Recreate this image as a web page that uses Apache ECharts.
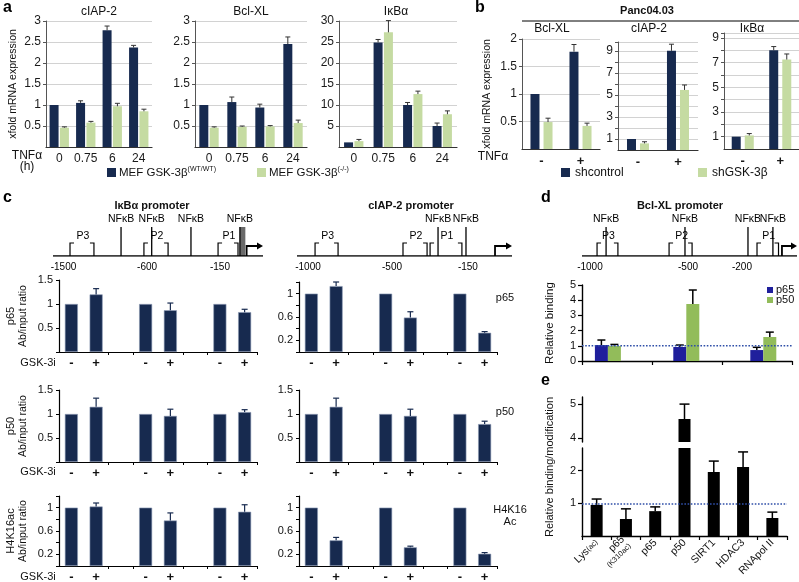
<!DOCTYPE html>
<html>
<head>
<meta charset="utf-8">
<script src="https://cdn.jsdelivr.net/npm/echarts@6.0.0/dist/echarts.min.js"></script>
<style>html,body{margin:0;padding:0;background:#fff;}#chart{width:799px;height:582px;}</style>
</head>
<body>
<div id="chart"></div>
<script>
// ================= DATA =================
// panel a : MEF cells, xfold mRNA expression vs TNFa time (h)
const aTimes = ['0', '0.75', '6', '24'];
const aCiapWT = [1.0, 1.05, 2.78, 2.37];
const aCiapWTErr = [0, 0.05, 0.1, 0.05];
const aCiapKO = [0.46, 0.58, 0.97, 0.85];
const aCiapKOErr = [0.02, 0.03, 0.07, 0.05];
const aBclWT = [1.0, 1.07, 0.94, 2.45];
const aBclWTErr = [0, 0.12, 0.08, 0.17];
const aBclKO = [0.46, 0.48, 0.49, 0.57];
const aBclKOErr = [0.02, 0.02, 0.02, 0.07];
const aIkbWT = [1.1, 24.9, 10.0, 5.0];
const aIkbWTErr = [0, 0.7, 0.6, 0.7];
const aIkbKO = [1.4, 27.3, 12.6, 7.8];
const aIkbKOErr = [0.4, 2.8, 0.7, 0.8];

// panel b : Panc04.03
const bTnf = ['-', '+'];
const bBclCtl = [1.0, 1.77];  const bBclCtlErr = [0, 0.13];
const bBclSh = [0.49, 0.42];  const bBclShErr = [0.07, 0.05];
const bCiapCtl = [1.0, 9.0];  const bCiapCtlErr = [0, 0.6];
const bCiapSh = [0.6, 5.45];  const bCiapShErr = [0.15, 0.45];
const bIkbCtl = [1.0, 8.0];   const bIkbCtlErr = [0, 0.3];
const bIkbSh = [1.1, 7.25];   const bIkbShErr = [0.15, 0.45];
const bOddLabels = [1, 3, 5, 7, 9];

// panel c : ChIP, GSK-3i - / +, primer pairs P3, P2, P1
const cCats = ['-', '+', '', '-', '+', '', '-', '+'];
const cIkbP65 = [1, 1.2, null, 1, 0.87, null, 1, 0.83];
const cIkbP65Err = [0, 0.12, 0, 0, 0.15, 0, 0, 0.06];
const cCiapP65 = [1, 1.13, null, 1, 0.59, null, 1, 0.33];
const cCiapP65Err = [0, 0.07, 0, 0, 0.1, 0, 0, 0.02];
const cIkbP50 = [1, 1.15, null, 1, 0.96, null, 1, 1.04];
const cIkbP50Err = [0, 0.18, 0, 0, 0.14, 0, 0, 0.05];
const cCiapP50 = [1, 1.15, null, 1, 0.96, null, 1, 0.79];
const cCiapP50Err = [0, 0.18, 0, 0, 0.14, 0, 0, 0.06];
const cIkbAc = [1, 1.02, null, 1, 0.78, null, 1, 0.93];
const cIkbAcErr = [0, 0.06, 0, 0, 0.13, 0, 0, 0.12];
const cCiapAc = [1, 0.44, null, 1, 0.32, null, 1, 0.21];
const cCiapAcErr = [0, 0.05, 0, 0, 0.02, 0, 0, 0.02];
const cTicksHalf = [0.5, 1, 1.5];
const cTicksFine = [0.2, 0.6, 1];

// promoter schematics (position along drawn promoter, 0-100)
const ikbSites = [32.4, 47.0, 65.7, 89.0];
const ikbBox = [[89.0, 91.6]];
const ikbPrimers = [['P3', 8.1, 19.5], ['P2', 43.3, 54.8], ['P1', 78.6, 88.1]];
const ikbTicks = [['-1500', 5.0], ['-600', 44.8], ['-150', 79.5]];
const ikbTss = 92.2;
const ciapSites = [65.6, 78.6];
const ciapPrimers = [['P3', 8.4, 19.1], ['P2', 49.3, 60.5], ['P1', 61.9, 76.7]];
const ciapTicks = [['-1000', 5.1], ['-500', 44.2], ['-150', 79.5]];
const ciapTss = 92.1;
const bclSites = [11.2, 47.9, 77.2, 88.8];
const bclPrimers = [['P3', 7.0, 16.7], ['P2', 40.5, 51.2], ['P1', 81.4, 91.4]];
const bclTicks = [['-1000', 3.7], ['-500', 49.3], ['-200', 74.4]];
const bclTss = 93.0;

// panel d : Bcl-XL promoter relative binding
const dPrimerPos = [0.37, 1.49, 2.59];
const dP65 = [1.05, 0.92, 0.72];  const dP65Err = [0.33, 0.13, 0.18];
const dP50 = [0.99, 3.75, 1.58];  const dP50Err = [0.1, 0.92, 0.32];

// panel e : relative binding / modification
const eCats = ['Lys(ac)', 'p65(K310ac)', 'p65', 'p50', 'SIRT1', 'HDAC3', 'RNApol II'];
const eVals = [0.95, 0.52, 0.76, 4.56, 1.96, 2.11, 0.55];
const eErr = [0.18, 0.31, 0.13, 0.44, 0.33, 0.46, 0.18];
const eUpperTicks = [4, 5];
const eLowerTicks = [1, 2];

// ================= STYLE / BUILD =================
const FONT = '"Liberation Sans", Arial, Helvetica, sans-serif';
const NAVY = '#172a4f';
const LGREEN = '#c5dba2';
const DBLUE = '#1f1f9c';
const DGREEN = '#92bc5a';
const grid = [], xAxis = [], yAxis = [], series = [], graphic = [];

function addGrid(rect, xa, ya) {
  const gi = grid.length;
  grid.push(Object.assign({ outerBoundsMode: 'none', containLabel: false }, rect));
  xa.gridIndex = gi; ya.gridIndex = gi;
  xAxis.push(xa); yAxis.push(ya);
  return gi;
}
function near(list, v) { return list.some(t => Math.abs(t - v) < 1e-6); }

function errS(gi, xs, vals, errs, off, capW, color, lw, clip) {
  return {
    type: 'custom', xAxisIndex: gi, yAxisIndex: gi, silent: true, z: 5, clip: !!clip,
    data: vals.map((v, i) => [xs[i], v == null ? 0 : v, errs[i] || 0]),
    renderItem(params, api) {
      const e = api.value(2);
      if (!e) return null;
      const c0 = api.coord([api.value(0), api.value(1)]);
      const c1 = api.coord([api.value(0), api.value(1) + e]);
      const x = c0[0] + off;
      return { type: 'group', children: [
        { type: 'line', shape: { x1: x, y1: c0[1], x2: x, y2: c1[1] }, style: { stroke: color, lineWidth: lw } },
        { type: 'line', shape: { x1: x - capW / 2, y1: c1[1], x2: x + capW / 2, y2: c1[1] }, style: { stroke: color, lineWidth: lw } }
      ] };
    }
  };
}
function idx(n) { return Array.from({ length: n }, (_, i) => i); }

function pairBars(gi, v1, e1, v2, e2, c1, c2, w, gap, capW) {
  const off = w * (1 + gap) / 2;
  series.push({ type: 'bar', xAxisIndex: gi, yAxisIndex: gi, data: v1, barWidth: w, barGap: (gap * 100) + '%', itemStyle: { color: c1 }, silent: true, z: 2 });
  series.push({ type: 'bar', xAxisIndex: gi, yAxisIndex: gi, data: v2, barWidth: w, barGap: (gap * 100) + '%', itemStyle: { color: c2 }, silent: true, z: 2 });
  series.push(errS(gi, idx(v1.length), v1, e1, -off, capW, '#333', 1, false));
  series.push(errS(gi, idx(v2.length), v2, e2, off, capW, '#333', 1, false));
}

function abY(max, interval, labels) {
  return {
    type: 'value', min: 0, max: max, interval: interval,
    axisLine: { show: true, lineStyle: { color: '#555', width: 1 } },
    axisTick: { show: true, length: 3, lineStyle: { color: '#555' } },
    splitLine: { show: true, lineStyle: { color: '#d2d2d2', width: 1 } },
    axisLabel: { color: '#1a1a1a', fontSize: 12, fontFamily: FONT, margin: 5, showMinLabel: false,
      formatter: v => (labels ? (near(labels, v) ? String(v) : '') : String(v)) }
  };
}
function abX(cats, bold) {
  return {
    type: 'category', data: cats,
    axisLine: { show: true, lineStyle: { color: '#333', width: 1.2 } },
    axisTick: { show: false },
    axisLabel: { interval: 0, color: '#1a1a1a', fontSize: bold ? 13 : 12, fontWeight: bold ? 'bold' : 'normal', fontFamily: FONT, margin: 6 }
  };
}

// ---- panel a
let g;
g = addGrid({ left: 46, top: 21, width: 106, height: 126 }, abX(aTimes), abY(3, 0.5));
pairBars(g, aCiapWT, aCiapWTErr, aCiapKO, aCiapKOErr, NAVY, LGREEN, 9, 0.15, 5);
g = addGrid({ left: 195, top: 21, width: 112, height: 126 }, abX(aTimes), abY(3, 0.5));
pairBars(g, aBclWT, aBclWTErr, aBclKO, aBclKOErr, NAVY, LGREEN, 9, 0.15, 5);
g = addGrid({ left: 339, top: 21, width: 118, height: 126 }, abX(aTimes), abY(30, 5));
pairBars(g, aIkbWT, aIkbWTErr, aIkbKO, aIkbKOErr, NAVY, LGREEN, 9, 0.15, 5);

// ---- panel b
g = addGrid({ left: 522, top: 39, width: 78, height: 110 }, abX(bTnf, true), abY(2, 0.5));
pairBars(g, bBclCtl, bBclCtlErr, bBclSh, bBclShErr, NAVY, LGREEN, 9, 0.45, 5);
g = addGrid({ left: 618, top: 42, width: 80, height: 108 }, abX(bTnf, true), abY(9.8, 1, bOddLabels));
pairBars(g, bCiapCtl, bCiapCtlErr, bCiapSh, bCiapShErr, NAVY, LGREEN, 9, 0.45, 5);
g = addGrid({ left: 724, top: 33, width: 75, height: 116 }, abX(bTnf, true), abY(9.4, 1, bOddLabels));
pairBars(g, bIkbCtl, bIkbCtlErr, bIkbSh, bIkbShErr, NAVY, LGREEN, 9, 0.45, 5);

// ---- promoter schematics
function addPromoter(rect, sites, boxes, primers, ticks, tss) {
  const gi = addGrid(rect, { type: 'value', min: 0, max: 100, show: false }, { type: 'value', min: 0, max: 10, show: false });
  const ax = { xAxisIndex: gi, yAxisIndex: gi, silent: true };
  const tf = { fontSize: 10.5, fontFamily: FONT, fill: '#000' };
  series.push(Object.assign({ type: 'line', data: [[0, 0], [100, 0]], symbol: 'none', lineStyle: { color: '#000', width: 1.6 }, z: 3 }, ax));
  if (boxes.length) series.push(Object.assign({ type: 'custom', z: 2, data: boxes, renderItem: (p, api) => {
    const a = api.coord([api.value(0), 10]), b = api.coord([api.value(1), 0]);
    return { type: 'rect', shape: { x: a[0], y: a[1], width: b[0] - a[0], height: b[1] - a[1] }, style: { fill: '#6a6a6a' } };
  } }, ax));
  series.push(Object.assign({ type: 'custom', z: 4, data: sites.map(s => [s, 10]), renderItem: (p, api) => {
    const b = api.coord([api.value(0), 0]), t = api.coord([api.value(0), api.value(1)]);
    return { type: 'group', children: [
      { type: 'line', shape: { x1: b[0], y1: b[1], x2: t[0], y2: t[1] }, style: { stroke: '#000', lineWidth: 1.3 } },
      { type: 'text', style: Object.assign({ text: 'NFκB', x: t[0], y: t[1] - 2, align: 'center', verticalAlign: 'bottom' }, tf) }
    ] };
  } }, ax));
  series.push(Object.assign({ type: 'custom', z: 4, data: primers.map(q => [q[1], q[2]]), renderItem: (p, api) => {
    const s = api.coord([api.value(0), 0]), e = api.coord([api.value(1), 0]);
    const h = 13, t = 4, y0 = s[1];
    return { type: 'group', children: [
      { type: 'polyline', shape: { points: [[s[0], y0], [s[0], y0 - h], [s[0] + t, y0 - h]] }, style: { stroke: '#000', fill: 'none', lineWidth: 1.2 } },
      { type: 'polyline', shape: { points: [[e[0] - t, y0 - h], [e[0], y0 - h], [e[0], y0]] }, style: { stroke: '#000', fill: 'none', lineWidth: 1.2 } },
      { type: 'text', style: Object.assign({ text: primers[p.dataIndex][0], x: (s[0] + e[0]) / 2 + 1, y: y0 - h - 1, align: 'center', verticalAlign: 'bottom' }, tf) }
    ] };
  } }, ax));
  series.push(Object.assign({ type: 'custom', z: 4, data: ticks.map(q => [q[1], 0]), renderItem: (p, api) => {
    const c = api.coord([api.value(0), 0]);
    return { type: 'text', style: Object.assign({ text: ticks[p.dataIndex][0], x: c[0], y: c[1] + 6, align: 'center', verticalAlign: 'top' }, tf, { fontSize: 10 }) };
  } }, ax));
  series.push(Object.assign({ type: 'custom', z: 4, data: [[tss, 100]], renderItem: (p, api) => {
    const s = api.coord([api.value(0), 0]), e = api.coord([api.value(1), 0]);
    const y0 = s[1], hy = y0 - 10;
    return { type: 'group', children: [
      { type: 'polyline', shape: { points: [[s[0], y0], [s[0], hy], [e[0] - 4, hy]] }, style: { stroke: '#000', fill: 'none', lineWidth: 1.8 } },
      { type: 'polygon', shape: { points: [[e[0] - 6, hy - 3.5], [e[0], hy], [e[0] - 6, hy + 3.5]] }, style: { fill: '#000' } }
    ] };
  } }, ax));
}
addPromoter({ left: 53, top: 227, width: 210, height: 29 }, ikbSites, ikbBox, ikbPrimers, ikbTicks, ikbTss);
addPromoter({ left: 297, top: 227, width: 215, height: 29 }, ciapSites, [], ciapPrimers, ciapTicks, ciapTss);
addPromoter({ left: 582, top: 227, width: 215, height: 29 }, bclSites, [], bclPrimers, bclTicks, bclTss);

// ---- panel c bar charts
function cY(max, interval, labels) {
  return {
    type: 'value', min: 0, max: max, interval: interval,
    axisLine: { show: true, lineStyle: { color: '#000', width: 1.2 } },
    axisTick: { show: true, length: 3, lineStyle: { color: '#000' } },
    splitLine: { show: false },
    axisLabel: { color: '#111', fontSize: 11, fontFamily: FONT, margin: 6, formatter: v => (near(labels, v) ? String(v) : '') }
  };
}
function cX() {
  return {
    type: 'category', data: cCats,
    axisLine: { show: true, lineStyle: { color: '#000', width: 1.2 } },
    axisTick: { show: true, length: 3, interval: i => (i === 2 || i === 3 || i === 5 || i === 6), lineStyle: { color: '#000' } },
    axisLabel: { interval: 0, color: '#111', fontSize: 13, fontWeight: 'bold', fontFamily: FONT, margin: 5 }
  };
}
function cChart(rect, vals, errs, max, interval, labels) {
  const gi = addGrid(rect, cX(), cY(max, interval, labels));
  series.push({ type: 'bar', xAxisIndex: gi, yAxisIndex: gi, data: vals, barWidth: 13, itemStyle: { color: NAVY, borderColor: '#8d9ab5', borderWidth: 0.6 }, silent: true, z: 2 });
  series.push(errS(gi, idx(vals.length), vals, errs, 0, 6, NAVY, 1.2, false));
}
cChart({ left: 59, top: 280, width: 198, height: 72 }, cIkbP65, cIkbP65Err, 1.5, 0.5, cTicksHalf);
cChart({ left: 299, top: 282, width: 198, height: 70 }, cCiapP65, cCiapP65Err, 1.2, 0.2, cTicksFine);
cChart({ left: 59, top: 390, width: 198, height: 72 }, cIkbP50, cIkbP50Err, 1.5, 0.5, cTicksHalf);
cChart({ left: 299, top: 390, width: 198, height: 72 }, cCiapP50, cCiapP50Err, 1.5, 0.5, cTicksHalf);
cChart({ left: 59, top: 496, width: 198, height: 70 }, cIkbAc, cIkbAcErr, 1.2, 0.2, cTicksFine);
cChart({ left: 299, top: 496, width: 198, height: 70 }, cCiapAc, cCiapAcErr, 1.2, 0.2, cTicksFine);

// ---- panel d
g = addGrid({ left: 582, top: 285, width: 210, height: 76 },
  { type: 'value', min: 0, max: 3, interval: 1, axisLine: { show: true, lineStyle: { color: '#000', width: 1.4 } },
    axisTick: { show: true, length: 4, lineStyle: { color: '#000', width: 1.2 } }, axisLabel: { show: false }, splitLine: { show: false } },
  { type: 'value', min: 0, max: 5, interval: 1, axisLine: { show: true, lineStyle: { color: '#000', width: 1.4 } },
    axisTick: { show: true, length: 4, lineStyle: { color: '#000', width: 1.2 } }, splitLine: { show: false },
    axisLabel: { color: '#111', fontSize: 11, fontFamily: FONT, margin: 6 } });
function dBars(gi, vals, off, w, color) {
  return { type: 'custom', xAxisIndex: gi, yAxisIndex: gi, silent: true, z: 3,
    data: vals.map((v, i) => [dPrimerPos[i], v]),
    renderItem(p, api) {
      const b = api.coord([api.value(0), 0]), t = api.coord([api.value(0), api.value(1)]);
      return { type: 'rect', shape: { x: b[0] + off - w / 2, y: t[1], width: w, height: b[1] - t[1] }, style: { fill: color } };
    } };
}
series.push(dBars(g, dP65, -6.5, 13, DBLUE));
series.push(dBars(g, dP50, 6.5, 13, DGREEN));
series.push(errS(g, dPrimerPos, dP65, dP65Err, -6.5, 8, '#000', 1.5, false));
series.push(errS(g, dPrimerPos, dP50, dP50Err, 6.5, 8, '#000', 1.5, false));
series.push({ type: 'line', xAxisIndex: g, yAxisIndex: g, data: [[0, 1], [3, 1]], symbol: 'none', silent: true, z: 6,
  lineStyle: { type: 'dotted', color: '#2f4fa8', width: 1.6 } });

// ---- panel e (broken axis: two stacked grids)
function eX(show) {
  return { type: 'category', data: eCats, show: show,
    axisLine: { show: true, lineStyle: { color: '#000', width: 1.4 } },
    axisTick: { show: true, length: 4, lineStyle: { color: '#000', width: 1.2 } },
    axisLabel: { interval: 0, rotate: 45, margin: 5, color: '#111', fontFamily: FONT, fontSize: 10,
      formatter: v => {
        if (v === 'Lys(ac)') return '{m|Lys}{s|(ac)}';
        if (v === 'p65(K310ac)') return '{m|p65}\n{s|(K310ac)}';
        return '{m|' + v + '}';
      },
      rich: { m: { fontSize: 10.5, fontFamily: FONT, color: '#111', lineHeight: 11 }, s: { fontSize: 7.5, fontFamily: FONT, color: '#111', lineHeight: 9 } } } };
}
function eY(min, max, ticks) {
  return { type: 'value', min: min, max: max,
    axisLine: { show: true, lineStyle: { color: '#000', width: 1.4 } },
    axisTick: { show: true, length: 4, customValues: ticks, lineStyle: { color: '#000', width: 1.2 } },
    splitLine: { show: false },
    axisLabel: { color: '#111', fontSize: 11, fontFamily: FONT, margin: 6, customValues: ticks } };
}
const gU = addGrid({ left: 582, top: 397, width: 205, height: 45 }, eX(false), eY(3.88, 5.21, eUpperTicks));
const gL = addGrid({ left: 582, top: 448, width: 205, height: 88 }, eX(true), eY(0, 2.69, eLowerTicks));
[gU, gL].forEach(gi => {
  series.push({ type: 'bar', xAxisIndex: gi, yAxisIndex: gi, data: eVals, barWidth: 12, clip: true, itemStyle: { color: '#000' }, silent: true, z: 2,
    markLine: gi === gL ? { silent: true, symbol: 'none', label: { show: false }, lineStyle: { type: 'dotted', color: '#2f4fa8', width: 1.6 }, data: [{ yAxis: 1 }], z: 6 } : undefined });
  series.push(errS(gi, idx(eVals.length), eVals, eErr, 0, 10, '#000', 1.5, true));
});

// ---- texts
function txt(x, y, text, o) {
  o = o || {};
  graphic.push({ type: 'text', x: x, y: y, rotation: o.rot || 0, silent: true, z: 10,
    style: { text: text, fill: o.color || '#111', fontSize: o.size || 11, fontWeight: o.bold ? 'bold' : 'normal', fontFamily: FONT,
      align: o.align || 'center', verticalAlign: o.va || 'middle', rich: o.rich, lineHeight: o.lh } });
}
function box(x, y, w, h, color) {
  graphic.push({ type: 'rect', silent: true, z: 10, shape: { x: x, y: y, width: w, height: h }, style: { fill: color } });
}
const R = Math.PI / 2;
// letters
txt(3, 8, 'a', { size: 16, bold: true, align: 'left', color: '#000' });
txt(475, 8, 'b', { size: 16, bold: true, align: 'left', color: '#000' });
txt(3, 198, 'c', { size: 16, bold: true, align: 'left', color: '#000' });
txt(541, 198, 'd', { size: 16, bold: true, align: 'left', color: '#000' });
txt(541, 381, 'e', { size: 16, bold: true, align: 'left', color: '#000' });
// panel a
txt(99, 12, 'cIAP-2', { size: 12 });
txt(251, 12, 'Bcl-XL', { size: 12 });
txt(396, 12, 'IκBα', { size: 12 });
txt(13, 84, 'xfold mRNA expression', { size: 10.5, rot: R });
txt(27, 156, 'TNFα', { size: 12 });
txt(27, 167, '(h)', { size: 12 });
box(107, 168, 9, 9, NAVY);
txt(119, 173, '{t|MEF GSK-3β}{s|(WT/WT)}', { align: 'left', rich: { t: { fontSize: 11.5, fontFamily: FONT, fill: '#111', lineHeight: 14 }, s: { fontSize: 7, fontFamily: FONT, fill: '#111', verticalAlign: 'top', lineHeight: 14 } } });
box(257, 168, 9, 9, LGREEN);
txt(269, 173, '{t|MEF GSK-3β}{s|(-/-)}', { align: 'left', rich: { t: { fontSize: 11.5, fontFamily: FONT, fill: '#111', lineHeight: 14 }, s: { fontSize: 7, fontFamily: FONT, fill: '#111', verticalAlign: 'top', lineHeight: 14 } } });
// panel b
txt(647, 11, 'Panc04.03', { size: 11, bold: true });
graphic.push({ type: 'line', silent: true, shape: { x1: 522, y1: 21, x2: 799, y2: 21 }, style: { stroke: '#000', lineWidth: 1 } });
txt(552, 29, 'Bcl-XL', { size: 12 });
txt(649, 29, 'cIAP-2', { size: 12 });
txt(752, 29, 'IκBα', { size: 12 });
txt(487, 94, 'xfold mRNA expression', { size: 10.5, rot: R });
txt(493, 157, 'TNFα', { size: 12 });
box(561, 168, 9, 9, NAVY);
txt(575, 173, 'shcontrol', { size: 12, align: 'left' });
box(698, 168, 9, 9, LGREEN);
txt(712, 173, 'shGSK-3β', { size: 12, align: 'left' });
// panel c / d titles
txt(152, 206, 'IκBα promoter', { size: 11, bold: true });
txt(411, 206, 'cIAP-2 promoter', { size: 11, bold: true });
txt(680, 206, 'Bcl-XL promoter', { size: 11, bold: true });
txt(11, 316, 'p65', { size: 11, rot: R });
txt(23, 316, 'Ab/input ratio', { size: 10.5, rot: R });
txt(11, 426, 'p50', { size: 11, rot: R });
txt(23, 426, 'Ab/input ratio', { size: 10.5, rot: R });
txt(11, 531, 'H4K16ac', { size: 11, rot: R });
txt(23, 531, 'Ab/input ratio', { size: 10.5, rot: R });
txt(38, 363, 'GSK-3i', { size: 11 });
txt(38, 472, 'GSK-3i', { size: 11 });
txt(38, 577, 'GSK-3i', { size: 11 });
txt(505, 298, 'p65', { size: 11 });
txt(505, 412, 'p50', { size: 11 });
txt(510, 510, 'H4K16', { size: 11 });
txt(510, 522, 'Ac', { size: 11 });
// panel d / e
txt(550, 323, 'Relative binding', { size: 11.5, rot: R });
txt(550, 467, 'Relative binding/modification', { size: 11, rot: R });
box(767, 287, 6, 6, DBLUE);
txt(776, 290, 'p65', { size: 11, align: 'left' });
box(767, 297, 6, 6, DGREEN);
txt(776, 300, 'p50', { size: 11, align: 'left' });

const chart = echarts.init(document.getElementById('chart'), null, { renderer: 'canvas' });
chart.setOption({ animation: false, backgroundColor: '#fff', textStyle: { fontFamily: FONT }, grid: grid, xAxis: xAxis, yAxis: yAxis, series: series, graphic: graphic });
</script>
</body>
</html>
